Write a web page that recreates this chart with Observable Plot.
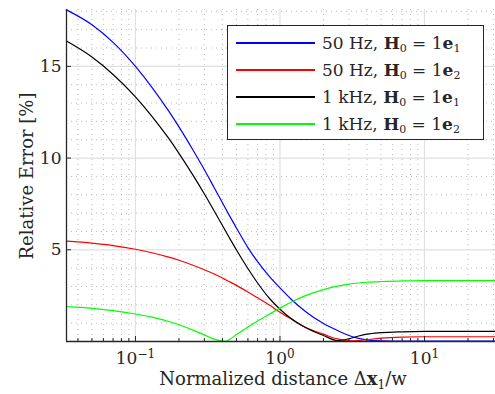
<!DOCTYPE html>
<html><head><meta charset="utf-8">
<script src="https://cdn.jsdelivr.net/npm/d3@7"></script>
<script src="https://cdn.jsdelivr.net/npm/@observablehq/plot@0.6"></script>
<style>
body{margin:0;background:#fff;}
#wrap{position:relative;width:495px;height:394px;font-family:"DejaVu Serif",serif;color:#262626;}
#legend{position:absolute;left:227px;top:25px;width:257px;height:115px;border:1.3px solid #262626;background:#fff;box-sizing:border-box;}
.row{position:absolute;left:8px;height:27px;display:flex;align-items:center;font-size:17px;white-space:nowrap;}
.sw{display:inline-block;width:79px;height:1.3px;margin-right:7px;}
.row sub{font-size:11px;vertical-align:-3px;line-height:0;}
</style></head>
<body><div id="wrap"></div>
<script>
// ---- data ----
const xValues = [0.0333, 0.05, 0.07, 0.1, 0.13, 0.17, 0.2, 0.25, 0.3, 0.35, 0.4, 0.42, 0.45, 0.5, 0.6, 0.7, 0.85, 1, 1.2, 1.5, 2, 2.5, 3, 3.5, 4, 5, 7, 10, 15, 20, 31];
const blue50e1  = [18.08, 17.27, 16.31, 15.0, 13.86, 12.56, 11.70, 10.44, 9.36, 8.40, 7.56, 7.25, 6.82, 6.19, 5.12, 4.35, 3.52, 2.92, 2.29, 1.64, 0.98, 0.6, 0.33, 0.17, 0.09, 0.035, 0.02, 0.02, 0.02, 0.02, 0.02];
const red50e2   = [5.47, 5.36, 5.23, 5.03, 4.84, 4.60, 4.43, 4.16, 3.91, 3.68, 3.46, 3.37, 3.25, 3.06, 2.70, 2.38, 1.97, 1.60, 1.22, 0.78, 0.40, 0.14, 0.04, 0.05, 0.10, 0.18, 0.24, 0.26, 0.26, 0.26, 0.26];
const black1ke1 = [16.38, 15.51, 14.56, 13.34, 12.28, 11.07, 10.26, 9.07, 8.04, 7.13, 6.32, 6.02, 5.61, 4.99, 3.98, 3.19, 2.33, 1.76, 1.24, 0.76, 0.33, 0.05, 0.15, 0.30, 0.40, 0.48, 0.53, 0.55, 0.55, 0.55, 0.55];
const green1ke2 = [1.90, 1.81, 1.68, 1.50, 1.33, 1.09, 0.91, 0.62, 0.36, 0.13, 0.02, 0.01, 0.12, 0.38, 0.79, 1.12, 1.50, 1.82, 2.15, 2.50, 2.83, 3.02, 3.13, 3.19, 3.23, 3.27, 3.30, 3.32, 3.32, 3.32, 3.32];
const seriesNames = ["50 Hz, H0 = 1e1", "50 Hz, H0 = 1e2", "1 kHz, H0 = 1e1", "1 kHz, H0 = 1e2"];
const seriesLabelsHtml = ["50 Hz, <b>H</b><sub>0</sub> = 1<b>e</b><sub>1</sub>", "50 Hz, <b>H</b><sub>0</sub> = 1<b>e</b><sub>2</sub>", "1 kHz, <b>H</b><sub>0</sub> = 1<b>e</b><sub>1</sub>", "1 kHz, <b>H</b><sub>0</sub> = 1<b>e</b><sub>2</sub>"];
const seriesValues = [blue50e1, red50e2, black1ke1, green1ke2];
const seriesColors = ["#0000ff", "#ff0000", "#000000", "#00ff00"];
const xDomain = [1/30, 31];
const yDomain = [0, 18.1];
const xMajorTicks = [0.1, 1, 10];
const xTickExponents = ["\u22121", "0", "1"];
const xMinorTicks = [0.04,0.05,0.06,0.07,0.08,0.09,0.2,0.3,0.4,0.5,0.6,0.7,0.8,0.9,2,3,4,5,6,7,8,9,20,30];
const yMajorTicks = [5, 10, 15];
const yMinorTicks = [1,2,3,4,6,7,8,9,11,12,13,14,16,17,18];
const xLabel = "Normalized distance";
const yLabel = "Relative Error [%]";

// ---- build ----
const rows = seriesNames.flatMap((name, si) => xValues.map((x, i) => ({x, y: seriesValues[si][i], series: name})));
const W = 495, H = 394, mL = 66, mR = 0, mT = 9, mB = 53;
const pw = W - mL - mR, ph = H - mT - mB;
const axisCol = "#262626";

const chart = Plot.plot({
  width: W, height: H,
  marginLeft: mL, marginRight: mR, marginTop: mT, marginBottom: mB,
  style: {fontFamily: "DejaVu Serif, serif", fontSize: "17px", color: axisCol, background: "#fff"},
  x: {type: "log", domain: xDomain},
  y: {domain: yDomain},
  color: {domain: seriesNames, range: seriesColors},
  marks: [
    Plot.ruleX(xMinorTicks, {stroke: "#9a9a9a", strokeDasharray: "1,4", strokeWidth: 0.9, strokeOpacity: 0.75}),
    Plot.ruleY(yMinorTicks, {stroke: "#9a9a9a", strokeDasharray: "1,4", strokeWidth: 0.9, strokeOpacity: 0.75}),
    Plot.ruleX(xMajorTicks, {stroke: "#e0e0e0", strokeWidth: 1.2}),
    Plot.ruleY(yMajorTicks, {stroke: "#e0e0e0", strokeWidth: 1.2}),
    Plot.line(rows, {x: "x", y: "y", z: "series", stroke: "series", strokeWidth: 1.2, curve: "monotone-x"}),
    Plot.ruleX(xMajorTicks, {stroke: axisCol, insetTop: ph - 5}),
    Plot.ruleX(xMinorTicks, {stroke: axisCol, insetTop: ph - 3}),
    Plot.ruleY(yMajorTicks, {stroke: axisCol, insetRight: pw - 5}),
    Plot.ruleY([yDomain[0]], {stroke: axisCol, strokeWidth: 1.3}),
    Plot.ruleX([xDomain[0]], {stroke: axisCol, strokeWidth: 1.3}),
    Plot.axisX({ticks: xMajorTicks, tickSize: 0, tickPadding: 10, tickFormat: () => "10", label: null, fill: axisCol}),
    Plot.axisY({ticks: yMajorTicks, tickSize: 0, tickPadding: 5, label: null, fill: axisCol})
  ]
});

const svg = d3.select(chart);
svg.selectAll('g[aria-label="x-axis tick label"] text').each(function(d, i) {
  d3.select(this).append("tspan").attr("dy", "-0.45em").attr("font-size", "12px").text(xTickExponents[i]);
});
// axis labels
svg.append("text").attr("transform", "translate(33,176) rotate(-90)").attr("text-anchor", "middle")
  .attr("font-size", "18px").attr("fill", axisCol).text(yLabel);
const xl = svg.append("text").attr("x", 283).attr("y", 385).attr("text-anchor", "middle")
  .attr("font-size", "18px").attr("fill", axisCol);
xl.append("tspan").text(xLabel + " \u0394");
xl.append("tspan").attr("font-weight", "bold").text("x");
xl.append("tspan").attr("font-size", "12px").attr("dy", "4").text("1");
xl.append("tspan").attr("dy", "-4").text("/w");

const wrap = document.getElementById("wrap");
wrap.appendChild(chart);
const legend = document.createElement("div");
legend.id = "legend";
seriesLabelsHtml.forEach((lab, i) => {
  const r = document.createElement("div");
  r.className = "row";
  r.style.top = (3.5 + 27 * i) + "px";
  r.innerHTML = `<span class="sw" style="background-color:${seriesColors[i]}"></span><span>${lab}</span>`;
  legend.appendChild(r);
});
wrap.appendChild(legend);
</script>
</body></html>
